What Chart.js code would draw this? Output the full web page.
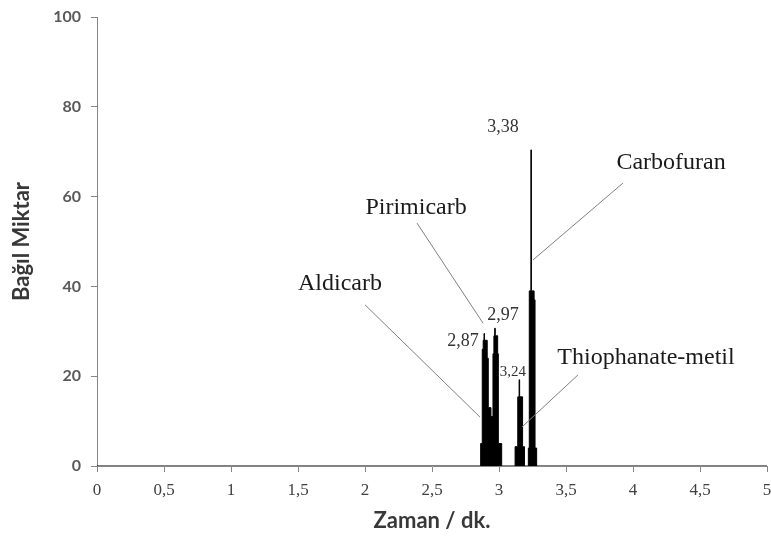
<!DOCTYPE html>
<html>
<head>
<meta charset="utf-8">
<script src="https://cdn.jsdelivr.net/npm/chart.js@4.4.1/dist/chart.umd.min.js"></script>
<style>
  html, body { margin: 0; padding: 0; background: #fff; }
  #wrap { width: 771px; height: 546px; }
</style>
</head>
<body>
<div id="wrap"><canvas id="chart"></canvas></div>
<script>
// Chromatogram trace (retention time in min, relative amount %)
const times = [
  0, 2.863, 2.875, 2.882, 2.888, 2.892, 2.912, 2.92, 2.94, 2.955, 2.962, 2.968, 2.972, 2.99, 2.995, 3.02,
  3.12, 3.14, 3.150, 3.154, 3.176, 3.19,
  3.219, 3.226, 3.238, 3.242, 3.262, 3.269, 3.281, 5
];
const amounts = [
  0, 5, 26, 28, 29.5, 28, 24, 13, 11, 25, 29, 30.7, 29, 25, 5, 0,
  4.3, 15.4, 19.2, 15.4, 4.3, 0,
  4, 39, 70.4, 39, 37, 4, 0, 0
];
const xTicks = [0, 0.5, 1, 1.5, 2, 2.5, 3, 3.5, 4, 4.5, 5];
const yTicks = [0, 20, 40, 60, 80, 100];

// Compound names and peak retention labels, with leader lines (data coords)
const compoundNames = ['Aldicarb', 'Pirimicarb', 'Carbofuran', 'Thiophanate-metil'];
const peakLabels = ['2,87', '2,97', '3,24', '3,38'];

const annotations = {
  names: [
    { text: compoundNames[0], x: 1.813, y: 40.5, line: [2.0, 35.9, 2.858, 10.9] },
    { text: compoundNames[1], x: 2.381, y: 57.6, line: [2.388, 54.1, 2.881, 31.8] },
    { text: compoundNames[2], x: 4.284, y: 67.6, line: [3.925, 63.0, 3.254, 45.9] },
    { text: compoundNames[3], x: 4.097, y: 24.2, line: [3.59, 20.3, 3.172, 8.7] }
  ],
  peaks: [
    { text: peakLabels[0], x: 2.731, y: 27.8, size: 18 },
    { text: peakLabels[1], x: 3.03, y: 33.6, size: 18 },
    { text: peakLabels[2], x: 3.104, y: 20.9, size: 15 },
    { text: peakLabels[3], x: 3.03, y: 75.5, size: 18 }
  ]
};

const annotationPlugin = {
  id: 'peakAnnotations',
  afterDatasetsDraw(chart) {
    const { ctx, scales: { x, y } } = chart;
    ctx.save();
    ctx.strokeStyle = '#7f7f7f';
    ctx.lineWidth = 1;
    for (const a of annotations.names) {
      const [x1, y1, x2, y2] = a.line;
      ctx.beginPath();
      ctx.moveTo(x.getPixelForValue(x1), y.getPixelForValue(y1));
      ctx.lineTo(x.getPixelForValue(x2), y.getPixelForValue(y2));
      ctx.stroke();
    }
    ctx.textAlign = 'center';
    ctx.textBaseline = 'middle';
    ctx.fillStyle = '#1a1a1a';
    ctx.font = "24px 'Liberation Serif'";
    for (const a of annotations.names) {
      ctx.fillText(a.text, x.getPixelForValue(a.x), y.getPixelForValue(a.y));
    }
    ctx.fillStyle = '#333';
    for (const p of annotations.peaks) {
      ctx.font = `${p.size}px 'Liberation Serif'`;
      ctx.fillText(p.text, x.getPixelForValue(p.x), y.getPixelForValue(p.y));
    }
    ctx.restore();
  }
};

const axisColor = '#868686';

new Chart(document.getElementById('chart'), {
  type: 'line',
  data: {
    datasets: [{
      data: times.map((t, i) => ({ x: t, y: amounts[i] })),
      borderColor: '#000',
      backgroundColor: '#000',
      borderWidth: 1,
      fill: 'origin',
      stepped: 'before',
      pointRadius: 0
    }]
  },
  plugins: [annotationPlugin],
  options: {
    responsive: true, maintainAspectRatio: false, animation: false,
    layout: { padding: { top: 17, right: 4, left: 0, bottom: 0 } },
    plugins: { legend: { display: false }, tooltip: { enabled: false } },
    scales: {
      x: {
        type: 'linear', min: 0, max: 5,
        afterBuildTicks: s => { s.ticks = xTicks.map(v => ({ value: v })); },
        afterFit: s => { s.height = 80; s.paddingLeft = 0; s.paddingRight = 0; },
        grid: { drawOnChartArea: false, color: axisColor, tickLength: 6 },
        border: { color: axisColor },
        ticks: {
          color: '#404040', padding: 8,
          font: { family: "'Liberation Serif'", size: 17 },
          callback: v => String(v).replace('.', ',')
        },
        title: {
          display: true, text: 'Zaman / dk.', color: '#383838',
          font: { family: 'Lato', size: 22, weight: 'bold' },
          padding: { top: 0, bottom: 12 }
        }
      },
      y: {
        min: 0, max: 100,
        afterBuildTicks: s => { s.ticks = yTicks.map(v => ({ value: v })); },
        afterFit: s => { s.width = 97; s.paddingTop = 0; s.paddingBottom = 0; },
        grid: { drawOnChartArea: false, color: axisColor, tickLength: 6 },
        border: { color: axisColor },
        ticks: {
          color: '#595959', padding: 10,
          font: { family: 'Lato', size: 16, weight: 'bold' }
        },
        title: {
          display: true, text: 'Bağıl Miktar', color: '#383838',
          font: { family: 'Lato', size: 22, weight: 'bold' },
          padding: { top: 9, bottom: 0 }
        }
      }
    }
  }
});
</script>
</body>
</html>
